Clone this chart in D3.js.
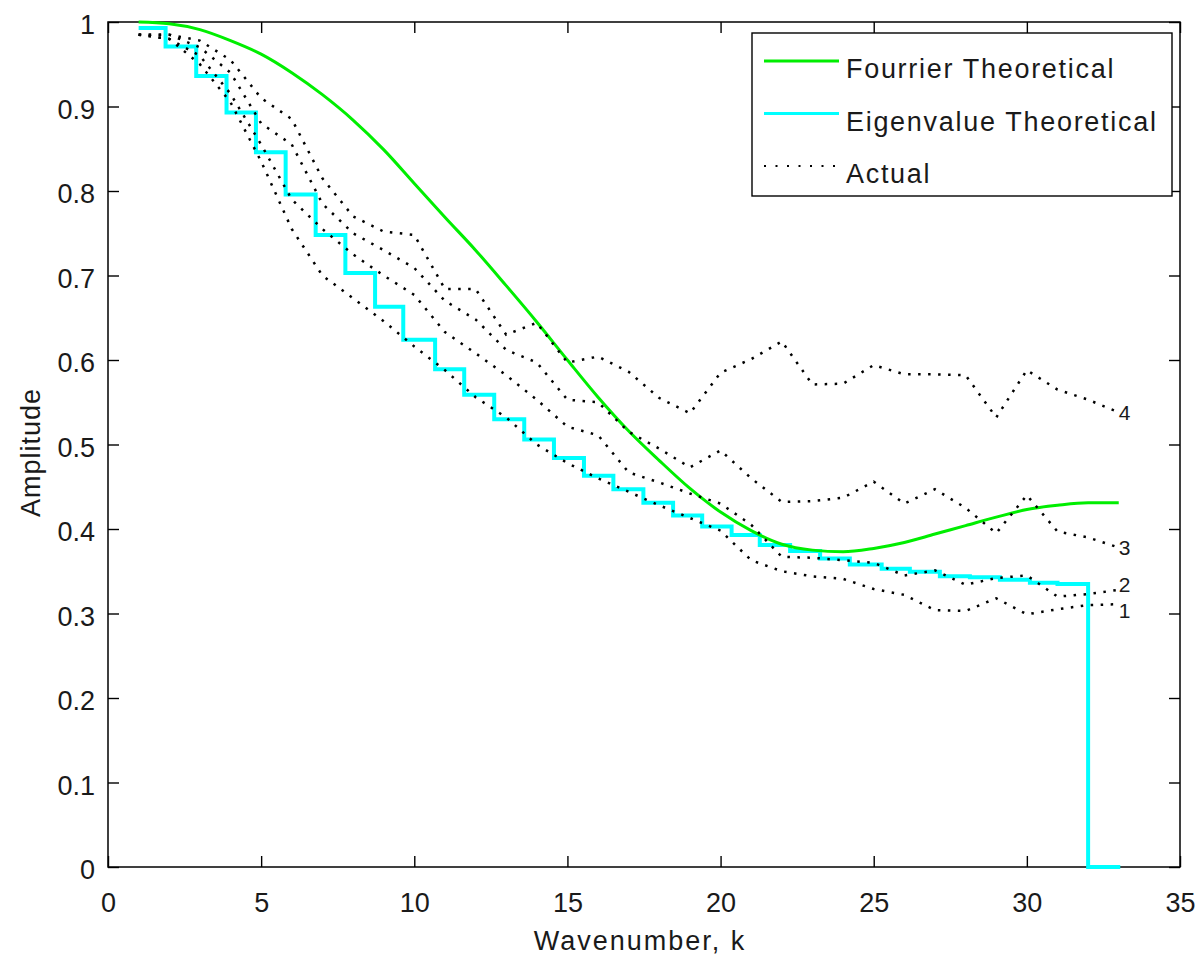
<!DOCTYPE html>
<html>
<head>
<meta charset="utf-8">
<script src="https://cdn.jsdelivr.net/npm/d3@7"></script>
<style>
  body { margin: 0; background: #fff; }
  text { font-family: "Liberation Sans", Arial, Helvetica, sans-serif; fill: #1a1a1a; }
</style>
</head>
<body>
<div class="vis"></div>
<script>
(function() {
  'use strict';

  // wavenumbers k = 1..33
  var wavenumbers = [1, 2, 3, 4, 5, 6, 7, 8, 9, 10, 11, 12, 13, 14, 15, 16, 17,
    18, 19, 20, 21, 22, 23, 24, 25, 26, 27, 28, 29, 30, 31, 32, 33];

  var fourier = [1.000, 0.998, 0.991, 0.978, 0.962, 0.940, 0.914, 0.884, 0.849,
    0.809, 0.769, 0.730, 0.688, 0.645, 0.600, 0.556, 0.516, 0.481, 0.448, 0.420,
    0.398, 0.382, 0.375, 0.373, 0.377, 0.384, 0.394, 0.404, 0.414, 0.423, 0.428,
    0.431, 0.431];

  // eigenvalue staircase: where each step starts, and its level
  var eigenStart = [1, 1.88, 2.88, 3.87, 4.83, 5.8, 6.78, 7.75, 8.72, 9.64, 10.68,
    11.63, 12.61, 13.59, 14.56, 15.54, 16.5, 17.48, 18.45, 19.4, 20.36, 21.28,
    22.27, 23.25, 24.22, 25.26, 26.18, 27.16, 28.14, 29.12, 30.1, 31.0, 32.0, 33.05];
  var eigenLevel = [0.993, 0.971, 0.936, 0.893, 0.846, 0.796, 0.748, 0.703, 0.663,
    0.624, 0.589, 0.559, 0.530, 0.506, 0.484, 0.463, 0.447, 0.431, 0.416, 0.403,
    0.393, 0.381, 0.374, 0.365, 0.358, 0.353, 0.3495, 0.344, 0.343, 0.340, 0.3365,
    0.335, 0, 0];

  var actual1 = [0.985, 0.980, 0.950, 0.905, 0.835, 0.755, 0.700, 0.673, 0.646,
    0.616, 0.588, 0.556, 0.532, 0.500, 0.478, 0.460, 0.444, 0.428, 0.413, 0.398,
    0.363, 0.350, 0.344, 0.341, 0.329, 0.322, 0.304, 0.303, 0.318, 0.299, 0.305,
    0.310, 0.311];
  var actual2 = [0.985, 0.980, 0.960, 0.915, 0.855, 0.790, 0.755, 0.725, 0.700,
    0.677, 0.633, 0.608, 0.582, 0.553, 0.521, 0.511, 0.467, 0.455, 0.442, 0.430,
    0.405, 0.367, 0.366, 0.363, 0.360, 0.345, 0.351, 0.334, 0.342, 0.345, 0.320,
    0.323, 0.328];
  var actual3 = [0.985, 0.985, 0.970, 0.940, 0.880, 0.855, 0.785, 0.750, 0.730,
    0.709, 0.670, 0.648, 0.612, 0.597, 0.553, 0.550, 0.515, 0.495, 0.473, 0.493,
    0.460, 0.432, 0.433, 0.437, 0.456, 0.430, 0.447, 0.425, 0.395, 0.440, 0.397,
    0.390, 0.378];
  var actual4 = [0.985, 0.985, 0.978, 0.955, 0.910, 0.885, 0.815, 0.770, 0.752,
    0.748, 0.684, 0.684, 0.630, 0.644, 0.597, 0.604, 0.586, 0.555, 0.537, 0.585,
    0.601, 0.622, 0.571, 0.572, 0.594, 0.583, 0.583, 0.582, 0.532, 0.588, 0.565,
    0.553, 0.538];

  var actualSeries = [
    {name: '1', values: actual1},
    {name: '2', values: actual2},
    {name: '3', values: actual3},
    {name: '4', values: actual4}
  ];

  var xTicks = [0, 5, 10, 15, 20, 25, 30, 35];
  var yTicks = [0, 0.1, 0.2, 0.3, 0.4, 0.5, 0.6, 0.7, 0.8, 0.9, 1];
  var legendItems = ['Fourrier Theoretical', 'Eigenvalue Theoretical', 'Actual'];

  var elWidth = 1199,
    elHeight = 958,
    margin = {top: 22, right: 19, bottom: 91, left: 108},
    width = elWidth - margin.left - margin.right,
    height = elHeight - margin.top - margin.bottom;

  var svg = d3.select('.vis').append('svg')
      .attr('width', elWidth)
      .attr('height', elHeight)
    .append('g')
      .attr('transform', 'translate(' + margin.left + ',' + margin.top + ')');

  var x = d3.scaleLinear().domain([0, 35]).range([0, width]);
  var y = d3.scaleLinear().domain([0, 1]).range([height, 0]);

  var fmt = function(d) { return String(+d.toFixed(1)); };
  var tick = 11;

  // axes, ticks pointing inward on all four sides
  svg.append('g')
      .attr('class', 'axis')
      .attr('transform', 'translate(0,' + height + ')')
      .call(d3.axisBottom(x).tickValues(xTicks).tickSize(-tick).tickPadding(26).tickFormat(fmt));
  svg.append('g')
      .attr('class', 'axis')
      .call(d3.axisTop(x).tickValues(xTicks).tickSize(-tick).tickFormat(''));
  svg.append('g')
      .attr('class', 'axis yaxis')
      .call(d3.axisLeft(y).tickValues(yTicks).tickSize(-tick).tickPadding(13).tickFormat(fmt));
  svg.append('g')
      .attr('class', 'axis')
      .attr('transform', 'translate(' + width + ',0)')
      .call(d3.axisRight(y).tickValues(yTicks).tickSize(-tick).tickFormat(''));

  svg.selectAll('.axis .domain').remove();
  svg.selectAll('.axis line').attr('stroke', '#000').attr('stroke-width', 1.4);
  svg.selectAll('.axis text')
      .style('font-size', '27px')
      .style('font-family', '"Liberation Sans", Arial, sans-serif')
      .attr('fill', '#1a1a1a');
  svg.selectAll('.yaxis text').attr('transform', 'translate(0,3)');

  svg.append('rect')
      .attr('width', width)
      .attr('height', height)
      .attr('fill', 'none')
      .attr('stroke', '#000')
      .attr('stroke-width', 1.5);

  // axis titles
  svg.append('text')
      .attr('x', width / 2 - 4)
      .attr('y', height + 83)
      .attr('text-anchor', 'middle')
      .style('font-size', '27px')
      .style('letter-spacing', '2px')
      .text('Wavenumber, k');

  svg.append('text')
      .attr('transform', 'translate(' + (40 - margin.left) + ',' + (height / 2 + 8) + ') rotate(-90)')
      .attr('text-anchor', 'middle')
      .style('font-size', '27px')
      .style('letter-spacing', '1px')
      .text('Amplitude');

  // eigenvalue staircase
  var eigenPts = eigenStart.map(function(s, i) { return [s, eigenLevel[i]]; });
  svg.append('path')
      .datum(eigenPts)
      .attr('fill', 'none')
      .attr('stroke', '#00ffff')
      .attr('stroke-width', 4)
      .attr('d', d3.line()
        .curve(d3.curveStepAfter)
        .x(function(d) { return x(d[0]); })
        .y(function(d) { return y(d[1]); }));

  // fourier curve
  svg.append('path')
      .datum(wavenumbers)
      .attr('fill', 'none')
      .attr('stroke', '#00ee00')
      .attr('stroke-width', 3)
      .attr('d', d3.line()
        .curve(d3.curveMonotoneX)
        .x(function(d) { return x(d); })
        .y(function(d, i) { return y(fourier[i]); }));

  // actual (dotted)
  var actualLine = d3.line()
    .x(function(d, i) { return x(wavenumbers[i]); })
    .y(function(d) { return y(d); });

  svg.selectAll('.actual')
    .data(actualSeries)
    .enter()
    .append('path')
      .attr('class', 'actual')
      .attr('fill', 'none')
      .attr('stroke', '#000')
      .attr('stroke-width', 2.5)
      .attr('stroke-dasharray', '2.5,7.5')
      .attr('d', function(d) { return actualLine(d.values); });

  // small vertical nudges so the crowded end labels don't collide
  var labelNudge = {'1': 6, '2': -5, '3': 0, '4': 0};

  svg.selectAll('.end-label')
    .data(actualSeries)
    .enter()
    .append('text')
      .attr('class', 'end-label')
      .attr('x', x(33))
      .attr('y', function(d) { return y(d.values[d.values.length - 1]) + labelNudge[d.name]; })
      .attr('dy', '0.36em')
      .style('font-size', '21px')
      .text(function(d) { return d.name; });

  // legend
  var legend = svg.append('g')
      .attr('transform', 'translate(' + (752 - margin.left) + ',' + (33 - margin.top) + ')');

  legend.append('rect')
      .attr('width', 420)
      .attr('height', 163)
      .attr('fill', '#fff')
      .attr('stroke', '#000')
      .attr('stroke-width', 1.4);

  var legendStyles = [
    {stroke: '#00ee00', width: 3, dash: null},
    {stroke: '#00ffff', width: 3, dash: null},
    {stroke: '#000', width: 2, dash: '2,9.5'}
  ];

  var rows = legend.selectAll('.legend-row')
    .data(legendItems)
    .enter()
    .append('g')
      .attr('class', 'legend-row')
      .attr('transform', function(d, i) { return 'translate(0,' + (28 + i * 52.5) + ')'; });

  rows.append('line')
      .attr('x1', 12)
      .attr('x2', 87)
      .attr('stroke', function(d, i) { return legendStyles[i].stroke; })
      .attr('stroke-width', function(d, i) { return legendStyles[i].width; })
      .attr('stroke-dasharray', function(d, i) { return legendStyles[i].dash; });

  rows.append('text')
      .attr('x', 94)
      .attr('y', 17)
      .style('font-size', '27px')
      .style('letter-spacing', '1.7px')
      .text(function(d) { return d; });
}());
</script>
</body>
</html>
